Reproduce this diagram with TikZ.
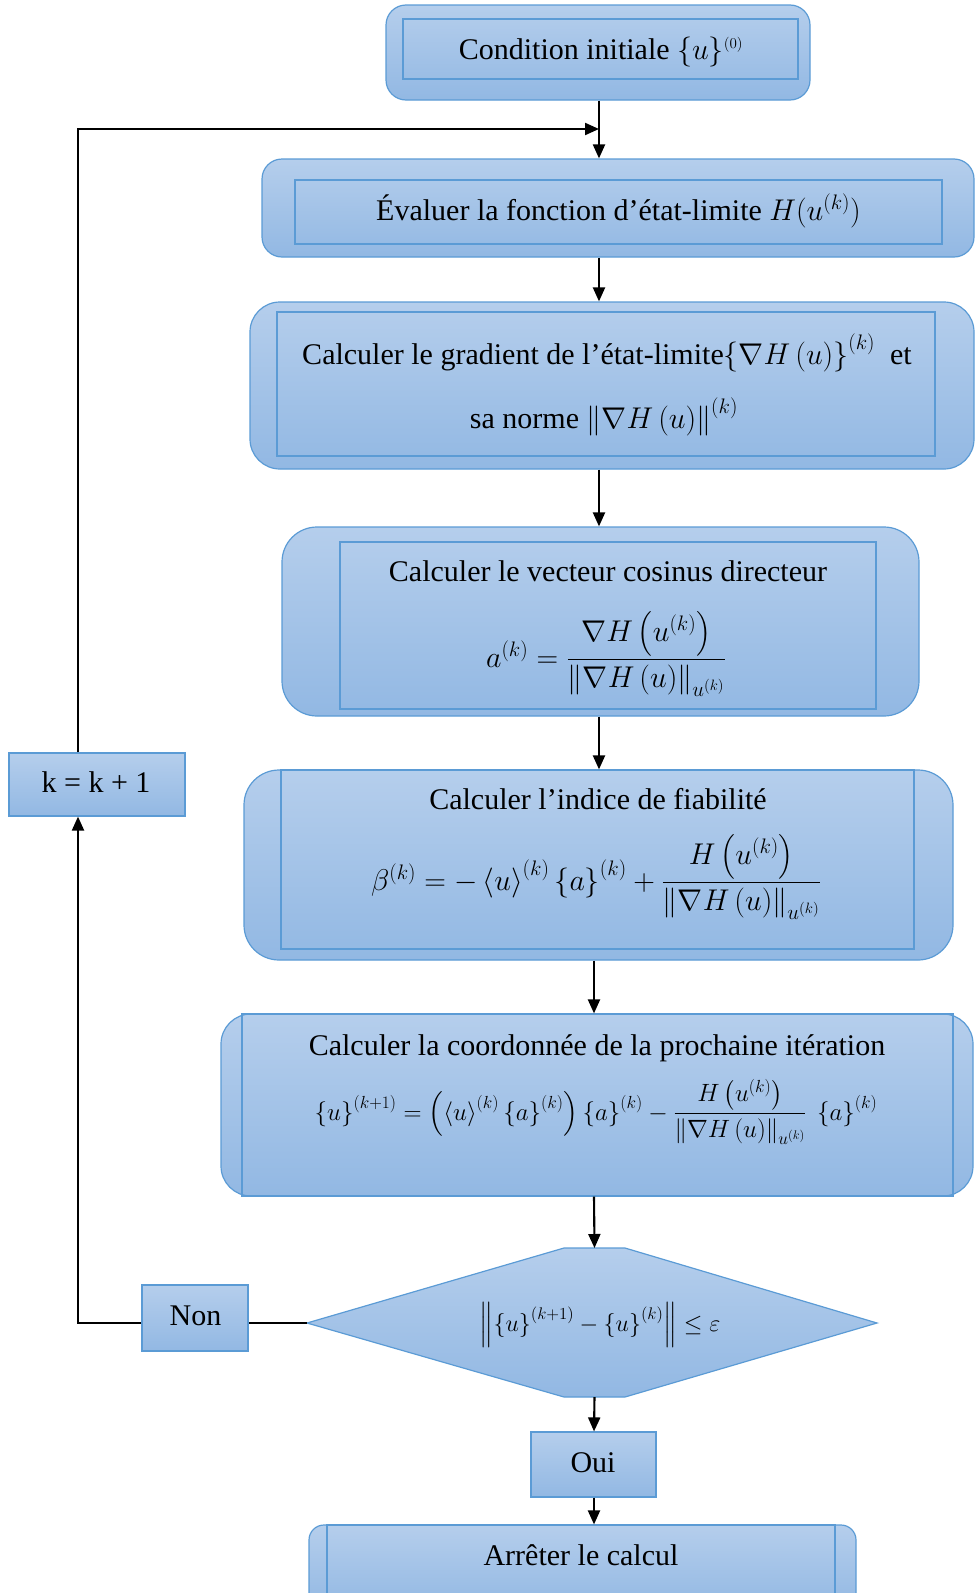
\RequirePackage{fix-cm}
\documentclass[tikz,border=0pt]{standalone}
\usepackage{amsmath}
\usepackage{fontspec}
\setmainfont{Liberation Serif}
\usetikzlibrary{arrows.meta,calc}
\definecolor{bord}{RGB}{91,155,213}
\definecolor{topc}{RGB}{181,206,236}
\definecolor{botc}{RGB}{146,184,227}
\tikzset{
  obox/.style={draw=bord, line width=1.2pt, top color=topc, bottom color=botc, rounded corners=#1, inner sep=0pt},
  obox/.default=20pt,
  ibox/.style={draw=bord, line width=1.2pt, inner sep=0pt},
  sbox/.style={draw=bord, line width=1.2pt, top color=topc, bottom color=botc, inner sep=0pt},
  txt/.style={font=\fontsize{30}{36}\selectfont, inner sep=0pt, anchor=base},
  arr/.style={-{Triangle[length=14pt,width=12pt]}, line width=2.1pt, black},
  ln/.style={line width=2.1pt, black}
}
\begin{document}
\begin{tikzpicture}[x=1pt,y=-1pt]
\useasboundingbox (0,0) rectangle (975,1593);
\clip (0,0) rectangle (975,1593);

% box 1
\node[obox=20pt, minimum width=424pt, minimum height=95pt] (b1) at (598,52.5) {};
\node[ibox, minimum width=395pt, minimum height=60pt] (b1i) at (600.5,49) {};
\node[txt] (b1t) at (601,59) {Condition initiale $\{u\}^{\scriptscriptstyle(0)}$};

% box 2
\node[obox=20pt, minimum width=712pt, minimum height=98pt] (b2) at (618,208) {};
\node[ibox, minimum width=647pt, minimum height=64pt] (b2i) at (618.5,212) {};
\node[txt] (b2t) at (618.5,220) {Évaluer la fonction d’état-limite $H(u^{(k)})$};

% box 3
\node[obox=30pt, minimum width=724pt, minimum height=167pt] (b3) at (612,385.5) {};
\node[ibox, minimum width=658pt, minimum height=144pt] (b3i) at (606,384) {};
\node[txt] (b3t) at (607,364) {Calculer le gradient de l’état-limite$\left\{\nabla H\left(u\right)\right\}^{(k)}$\ \ et};
\node[txt] (b3u) at (604,428) {sa norme $\left\|\nabla H\left(u\right)\right\|^{(k)}$};

% box 4
\node[obox=35pt, minimum width=637pt, minimum height=189pt] (b4) at (600.5,621.5) {};
\node[ibox, minimum width=536pt, minimum height=167pt] (b4i) at (608,625.5) {};
\node[txt] (b4t) at (608,581) {Calculer le vecteur cosinus directeur};
\node[txt] (b4f) at (606,667) {$a^{(k)} = \dfrac{\nabla H\left(u^{(k)}\right)}{\left\|\nabla H\left(u\right)\right\|_{u^{(k)}}}$};

% box 5
\node[obox=35pt, minimum width=709pt, minimum height=190pt] (b5) at (598.5,865) {};
\node[ibox, minimum width=633pt, minimum height=179pt] (b5i) at (597.5,859.5) {};
\node[txt] (b5t) at (598,809) {Calculer l’indice de fiabilité};
\node[txt] (b5f) at (596,890) {$\beta^{(k)} = -\left\langle u\right\rangle^{(k)}\left\{a\right\}^{(k)} + \dfrac{H\left(u^{(k)}\right)}{\left\|\nabla H\left(u\right)\right\|_{u^{(k)}}}$};

% box 6
\node[obox=30pt, minimum width=752pt, minimum height=182pt] (b6) at (597,1105) {};
\node[ibox, minimum width=711pt, minimum height=182pt] (b6i) at (597.5,1105) {};
\node[txt] (b6t) at (597,1055) {Calculer la coordonnée de la prochaine itération};
\node[txt, font=\fontsize{25}{30}\selectfont] (b6f) at (596,1120) {$\left\{u\right\}^{(k+1)} = \left(\left\langle u\right\rangle^{(k)}\left\{a\right\}^{(k)}\right)\left\{a\right\}^{(k)} - \dfrac{H\left(u^{(k)}\right)}{\left\|\nabla H\left(u\right)\right\|_{u^{(k)}}}\ \left\{a\right\}^{(k)}$};

% decision
\coordinate (dT) at (594.5,1248);
\coordinate (dB) at (594.5,1397);
\coordinate (dL) at (307,1323);
\coordinate (dR) at (877,1323);
\draw[draw=bord, line width=1.2pt, top color=topc, bottom color=botc]
  (564,1248) -- (625,1248) -- (dR) -- (625,1397) -- (564,1397) -- (dL) -- cycle;
\node[txt, font=\fontsize{24}{28}\selectfont] (dt) at (600,1331) {$\left\|\left\{u\right\}^{(k+1)}-\left\{u\right\}^{(k)}\right\| \le \varepsilon$};

% side boxes
\node[sbox, minimum width=176pt, minimum height=63pt] (k) at (97,784.5) {};
\node[txt] (kt) at (96,792) {k = k + 1};
\node[sbox, minimum width=106pt, minimum height=66pt] (non) at (195,1318) {};
\node[txt] (nont) at (195.5,1325) {Non};
\node[sbox, minimum width=125pt, minimum height=65pt] (oui) at (593.5,1464.5) {};
\node[txt] (ouit) at (593,1472) {Oui};

% final box
\node[obox=15pt, minimum width=547pt, minimum height=85pt] (b7) at (582.5,1567.5) {};
\node[ibox, minimum width=508pt, minimum height=85pt] (b7i) at (581,1567.5) {};
\node[txt] (b7t) at (581,1565) {Arrêter le calcul};

% connectors
\coordinate (ax) at (599,0);
\coordinate (bx) at (594,0);
\coordinate (lx) at (78,0);
\coordinate (j) at (599,129);
\draw[arr] (ax |- b1.south) -- (ax |- b2.north);
\draw[arr] (lx |- k.north) |- (j);
\draw[arr] (ax |- b2.south) -- (ax |- b3.north);
\draw[arr] (ax |- b3.south) -- (ax |- b4.north);
\draw[arr] (ax |- b4.south) -- (ax |- b5.north);
\draw[arr] (bx |- b5.south) -- (bx |- b6.north);
\draw[arr] (bx |- b6.south) -- (dT);
\draw[arr] (dB) -- (bx |- oui.north);
\draw[arr] (bx |- oui.south) -- (bx |- b7.north);
\draw[ln] (dL) -- (non.east |- dL);
\draw[arr] (non.west |- dL) -- (lx |- dL) -- (lx |- k.south);
\end{tikzpicture}
\end{document}
